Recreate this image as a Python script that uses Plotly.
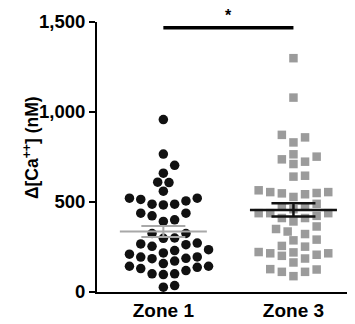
import numpy as np
import plotly.graph_objects as go

categories = ["Zone 1", "Zone 3"]

zone1_values = [958, 766, 704, 660, 608, 610, 560, 521, 514, 488, 488, 484, 506, 521,
                438, 401, 392, 423, 438,
                325, 325, 300, 298,
                272, 267, 254, 263, 235, 230, 217, 195, 187, 172, 185, 194, 210,
                143, 130, 143, 158, 119, 101, 97, 101, 137, 27, 36]

zone3_values = [1299, 1080, 859, 831, 873, 765, 737, 711, 724, 752, 646, 641,
                565, 555, 548, 528, 543, 550, 555,
                490, 475, 460, 475, 438, 438, 411, 423, 411, 438,
                364, 392, 336, 322, 350, 291,
                287, 252, 256, 215, 207, 222, 186, 220, 164, 201, 215, 127, 112, 88, 112, 125]

y_ticks = [0, 500, 1000, 1500]
sig_label = "*"

# ---- layout geometry (page has an 8px body margin) ----
W, H = 347, 316
ML, MR, MT, MB = 89, 3, 13, 31
XR = [0.49, 2.45]
YR = [0, 1500]
PW, PH = W - ML - MR, H - MT - MB
px_x = PW / (XR[1] - XR[0])
px_y = PH / (YR[1] - YR[0])


def swarm(values, diam, step):
    vals = np.asarray(values, dtype=float)
    order = np.argsort(vals)
    placed = []
    offs = np.zeros(len(vals))
    cands = [0]
    for k in range(1, 30):
        cands += [k, -k]
    for i in order:
        y = vals[i] * px_y
        for c in cands:
            x = c * step
            if all((x - a) ** 2 + (y - b) ** 2 >= diam ** 2 for a, b in placed):
                break
        placed.append((x, y))
        offs[i] = x / px_x
    return offs


off1 = swarm(zone1_values, 10.0, 5.65)
off3 = swarm(zone3_values, 9.6, 5.8)

fig = go.Figure()

fig.add_trace(go.Scatter(
    x=1 + off1, y=zone1_values, mode="markers",
    marker=dict(symbol="circle", size=9.5, color="#111111"),
    showlegend=False, hoverinfo="y"))
fig.add_trace(go.Scatter(
    x=2 + off3, y=zone3_values, mode="markers",
    marker=dict(symbol="square", size=8.5, color="#9b9b9b"),
    showlegend=False, hoverinfo="y"))

half_mean = 43.5 / px_x
for xc, vals, col, lw in [(1, zone1_values, "#a8a8a8", 2), (2, zone3_values, "#111111", 2.5)]:
    m = float(np.mean(vals))
    sem = float(np.std(vals, ddof=1) / np.sqrt(len(vals)))
    fig.add_trace(go.Scatter(
        x=[xc - half_mean, xc + half_mean], y=[m, m], mode="lines",
        line=dict(color=col, width=lw), showlegend=False, hoverinfo="skip"))
    fig.add_trace(go.Scatter(
        x=[xc], y=[m], mode="markers", marker=dict(size=0.1, color="rgba(0,0,0,0)"),
        error_y=dict(type="data", array=[sem], visible=True, color=col,
                     thickness=lw, width=22),
        showlegend=False, hoverinfo="skip"))

# significance bar
fig.add_shape(type="line", x0=1, x1=2, y0=1468, y1=1468, xref="x", yref="y",
              line=dict(color="black", width=3.5))
fig.add_annotation(x=1.5, y=1535 / YR[1], xref="x", yref="paper", text=sig_label,
                   showarrow=False,
                   font=dict(family="Liberation Sans", size=16, color="black", weight="bold"),
                   yanchor="middle")

# y title
fig.add_annotation(x=(23 - ML) / PW, y=(PH + MT - 140) / PH,
                   xref="paper", yref="paper", textangle=-90,
                   text="Δ[Ca<sup>++</sup>] (nM)", showarrow=False,
                   font=dict(family="Liberation Sans", size=17.5, color="black", weight="bold"),
                   xanchor="center", yanchor="middle")

fig.update_layout(
    width=W, height=H,
    margin=dict(l=ML, r=MR, t=MT, b=MB),
    paper_bgcolor="white", plot_bgcolor="white",
    font=dict(family="Liberation Sans", color="black"),
    xaxis=dict(range=XR, tickvals=[1, 2], ticktext=categories, showline=True,
               linewidth=2, linecolor="black", ticks="", showgrid=False, zeroline=False,
               tickfont=dict(size=19, weight="bold", color="black")),
    yaxis=dict(range=YR, tickvals=y_ticks, tickformat=",", showline=True,
               linewidth=2, linecolor="black", ticks="outside", ticklen=6, tickwidth=2,
               tickcolor="black", showgrid=False, zeroline=False,
               tickfont=dict(size=18.5, weight="bold", color="black")),
)

fig.write_html("out.html")
